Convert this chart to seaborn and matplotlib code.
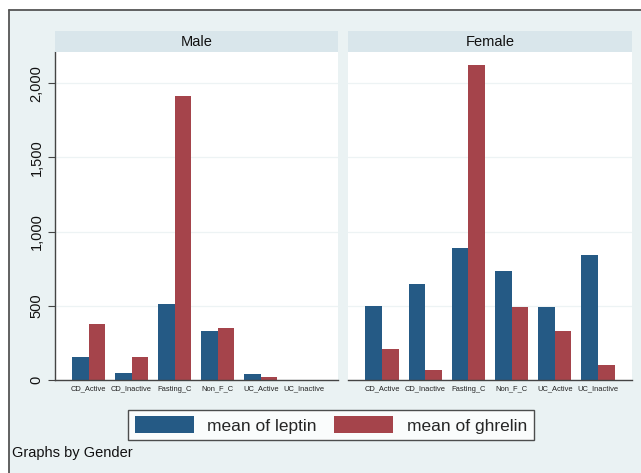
import numpy as np
import pandas as pd
import seaborn as sns
import matplotlib.pyplot as plt
from matplotlib.patches import Rectangle, Patch
from matplotlib.lines import Line2D
from matplotlib.ticker import FuncFormatter

# values (mean per group)
categories = ["CD_Active", "CD_Inactive", "Fasting_C", "Non_F_C", "UC_Active", "UC_Inactive"]
male_leptin = [157, 45, 510, 333, 38, np.nan]
male_ghrelin = [377, 153, 1910, 353, 18, np.nan]
female_leptin = [500, 645, 890, 737, 494, 845]
female_ghrelin = [209, 67, 2119, 494, 328, 99]
series = ["mean of leptin", "mean of ghrelin"]
panels = ["Male", "Female"]
y_ticks = [0, 500, 1000, 1500, 2000]

blue = "#255a85"
red = "#a5444b"
bg = "#eaf2f3"
strip = "#d9e6eb"

rows = []
for g, lep, ghr in [("Male", male_leptin, male_ghrelin), ("Female", female_leptin, female_ghrelin)]:
    for c, a, b in zip(categories, lep, ghr):
        rows.append((g, c, series[0], a))
        rows.append((g, c, series[1], b))
df = pd.DataFrame(rows, columns=["gender", "group", "stat", "value"])

sns.set_style("white")
plt.rcParams["font.family"] = ["Liberation Sans", "DejaVu Sans"]

W, H = 641, 473
fig = plt.figure(figsize=(W / 100, H / 100), dpi=100)
fig.patch.set_facecolor("white")

def fx(x):
    return x / W

def fy(y):
    return 1 - y / H

# outer graph region with frame on left/top
fig.add_artist(Rectangle((fx(9), 0), 1 - fx(9), fy(10), transform=fig.transFigure,
                         facecolor=bg, edgecolor="none", zorder=-10))
fig.add_artist(Line2D([fx(9), fx(9)], [0, fy(10)], transform=fig.transFigure, color="#555555", lw=1.3))
fig.add_artist(Line2D([fx(9), 1], [fy(10), fy(10)], transform=fig.transFigure, color="#555555", lw=1.3))

boxes = {"Male": (54.5, 338), "Female": (348, 632)}
top, bottom = 52.5, 380

for i, g in enumerate(panels):
    x0, x1 = boxes[g]
    ax = fig.add_axes([fx(x0), fy(bottom), fx(x1) - fx(x0), fy(top) - fy(bottom)])
    ax.set_facecolor("white")
    sub = df[df["gender"] == g]
    sns.barplot(data=sub, x="group", y="value", hue="stat", order=categories, hue_order=series,
                palette=[blue, red], width=0.77, gap=0, linewidth=0, saturation=1,
                errorbar=None, ax=ax, legend=False)
    ax.set_xlim(-0.79, 5.79)
    ax.set_ylim(0, 2206)
    ax.set_yticks(y_ticks)
    ax.grid(axis="y", color="#edf3f4", lw=0.9)
    ax.set_axisbelow(True)
    ax.set_xlabel("")
    ax.set_ylabel("")
    for s in ["top", "right"]:
        ax.spines[s].set_visible(False)
    ax.spines["bottom"].set_color("#444444")
    ax.spines["bottom"].set_linewidth(1.0)
    ax.tick_params(axis="x", length=0, labelsize=5.4, pad=4, colors="#222222")
    if i == 0:
        ax.spines["left"].set_color("#444444")
        ax.spines["left"].set_linewidth(1.0)
        ax.tick_params(axis="y", length=5, width=0.8, color="#444444", labelsize=10.5, pad=3,
                       left=True, labelcolor="#111111")
        ax.yaxis.set_major_formatter(FuncFormatter(lambda v, p: f"{int(v):,}"))
        for lab in ax.get_yticklabels():
            lab.set_rotation(90)
            lab.set_va("center")
    else:
        ax.spines["left"].set_visible(False)
        ax.tick_params(axis="y", left=False, labelleft=False)

    # panel header strip
    fig.add_artist(Rectangle((fx(x0), fy(top)), fx(x1) - fx(x0), fy(31.5) - fy(top),
                             transform=fig.transFigure, facecolor=strip, edgecolor="none"))
    fig.text(fx((x0 + x1) / 2), fy(42), g, ha="center", va="center", fontsize=10.5, color="#111111")

handles = [Patch(facecolor=blue, edgecolor="none"), Patch(facecolor=red, edgecolor="none")]
leg = fig.legend(handles, series, loc="center", bbox_to_anchor=(fx(331), fy(425)), ncol=2,
                 fontsize=12.5, frameon=True, fancybox=False, handlelength=3.4, handleheight=1.1,
                 handletextpad=0.8, columnspacing=1.0, borderpad=0.35, borderaxespad=0)
leg.get_frame().set_edgecolor("#222222")
leg.get_frame().set_linewidth(1.0)
leg.get_frame().set_facecolor("white")

fig.text(fx(12), fy(453), "Graphs by Gender", ha="left", va="center", fontsize=10.5, color="#111111")

fig.savefig("out.png", dpi=100)
